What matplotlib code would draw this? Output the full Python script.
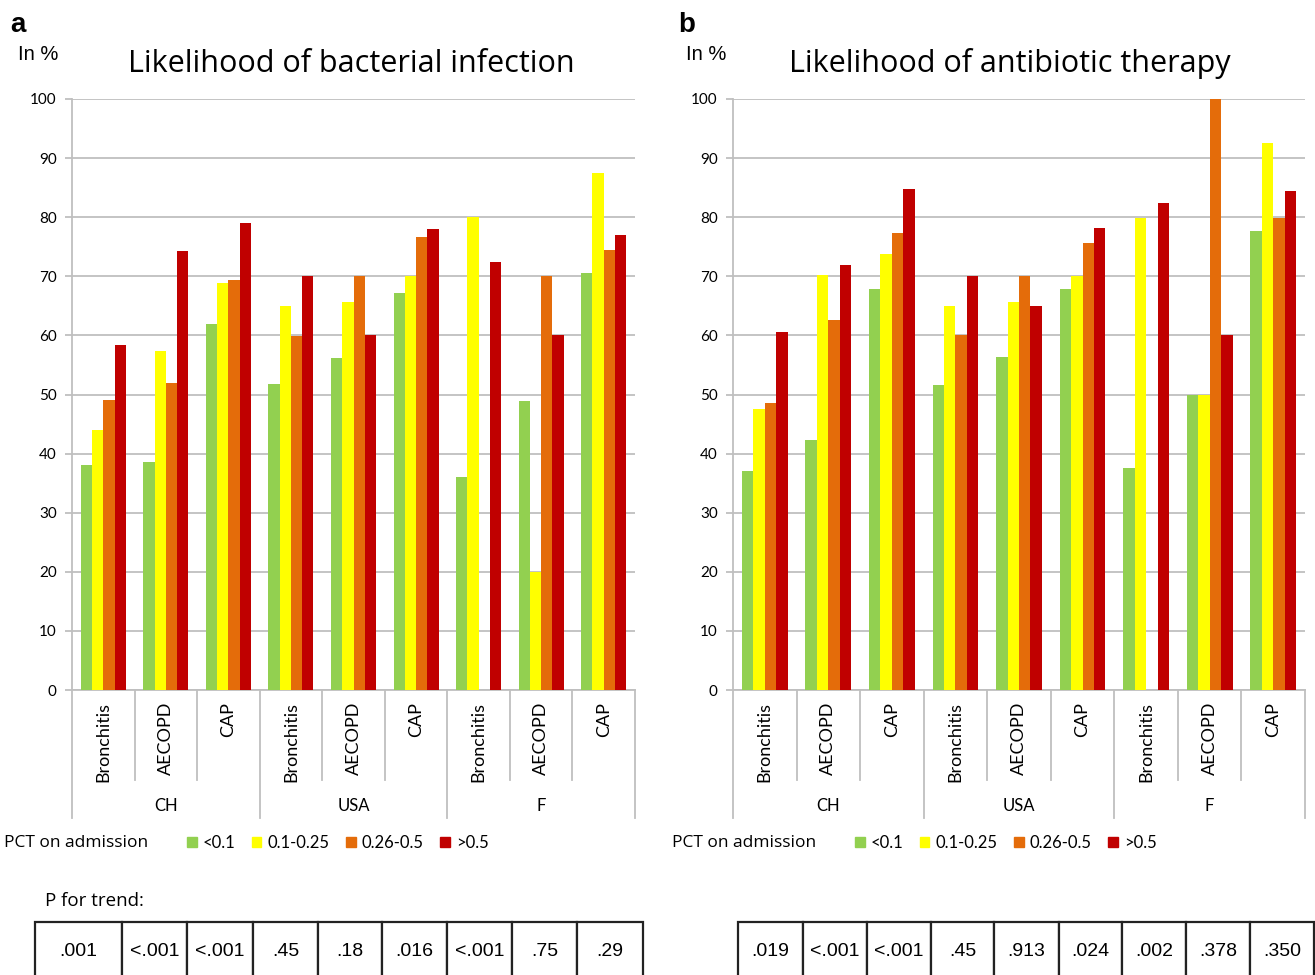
import numpy as np
import matplotlib
matplotlib.use("Agg")
import matplotlib.pyplot as plt
import matplotlib.transforms as mtransforms
from matplotlib.patches import Patch

W, H = 1315, 975

# ---- data (in %) ----
diseases = ['Bronchitis', 'AECOPD', 'CAP'] * 3
countries = ['CH', 'USA', 'F']
pct_classes = ['<0.1', '0.1-0.25', '0.26-0.5', '>0.5']
colors = ['#92D050', '#FFFF00', '#E46C0A', '#C00000']

infection_lt01 = [38.0, 38.5, 61.9, 51.7, 56.1, 67.2, 36.1, 48.9, 70.5]
infection_01_025 = [44.0, 57.4, 68.9, 64.9, 65.6, 70.0, 80.0, 20.0, 87.4]
infection_026_05 = [49.1, 51.9, 69.4, 59.9, 70.0, 76.7, 0.0, 70.0, 74.4]
infection_gt05 = [58.3, 74.3, 79.0, 70.0, 60.0, 78.0, 72.4, 60.0, 77.0]

therapy_lt01 = [37.1, 42.3, 67.9, 51.6, 56.3, 67.8, 37.5, 50.0, 77.6]
therapy_01_025 = [47.5, 70.3, 73.7, 65.0, 65.7, 70.0, 79.9, 50.0, 92.5]
therapy_026_05 = [48.6, 62.6, 77.4, 60.0, 70.0, 75.6, 0.0, 100.0, 79.9]
therapy_gt05 = [60.6, 71.9, 84.7, 70.0, 64.9, 78.2, 82.4, 60.0, 84.5]

p_infection = ['.001', '<.001', '<.001', '.45', '.18', '.016', '<.001', '.75', '.29']
p_therapy = ['.019', '<.001', '<.001', '.45', '.913', '.024', '.002', '.378', '.350']

calibri = ['Lato', 'DejaVu Sans']
arial = ['Liberation Sans', 'DejaVu Sans']
wide = ['Open Sans', 'DejaVu Sans']
grid_col = '#BFBFBF'


def fx(px):
    return px / W


def fy(px):
    return 1 - px / H


fig = plt.figure(figsize=(W / 100, H / 100), dpi=100)


def panel(x0, x1, lx, letter, title, title_x, series, pvals, table_edges):
    ax = fig.add_axes([fx(x0), fy(690), fx(x1 - x0), (690 - 99) / H])
    x = np.arange(len(diseases))
    width = 0.18
    for k, vals in enumerate(series):
        ax.bar(x + (k - 1.5) * width, vals, width, color=colors[k], zorder=3)
    ax.set_xlim(-0.5, len(diseases) - 0.5)
    ax.set_ylim(0, 100)
    ax.set_yticks(np.arange(0, 101, 10))
    ax.set_yticklabels([str(v) for v in range(0, 101, 10)], family=calibri, fontsize=11)
    ax.set_xticks([])
    ax.grid(axis='y', color=grid_col, linewidth=1.3, zorder=0)
    for s in ['top', 'right']:
        ax.spines[s].set_visible(False)
    for s in ['left', 'bottom']:
        ax.spines[s].set_color(grid_col)
        ax.spines[s].set_linewidth(1.3)
    ax.tick_params(axis='y', colors=grid_col, length=5, width=1.3, labelcolor='black', pad=6)

    # two level category axis
    blend = mtransforms.blended_transform_factory(ax.transData, fig.transFigure)
    for b in range(len(diseases) + 1):
        bottom = 818 if b % 3 == 0 else 780
        ax.plot([b - 0.5, b - 0.5], [fy(690), fy(bottom)], transform=blend,
                color=grid_col, linewidth=1.3, clip_on=False)
    for i, name in enumerate(diseases):
        ax.text(i, fy(702), name, transform=blend, rotation=90, ha='center', va='top',
                family=calibri, fontsize=13)
    for g, name in enumerate(countries):
        ax.text(3 * g + 1, fy(806), name, transform=blend, ha='center', va='center',
                family=calibri, fontsize=12)

    # header texts
    fig.text(fx(lx), fy(32), letter, fontsize=20, fontweight='bold',
             family=arial, ha='left', va='baseline')
    fig.text(fx(lx + 8), fy(60), 'In %', fontsize=14.5, family=arial, ha='left', va='baseline')
    fig.text(fx(title_x), fy(72), title, fontsize=22, family=wide, ha='center', va='baseline')

    # legend
    fig.text(fx(lx - 6), fy(843), 'PCT on admission', fontsize=12.5, family=wide,
             ha='left', va='center')
    handles = [Patch(color=c, label=l) for c, l in zip(colors, pct_classes)]
    fig.legend(handles=handles, loc='center left', bbox_to_anchor=(fx(lx + 177), fy(843)),
               ncol=4, frameon=False, handlelength=0.57, handleheight=0.57, handletextpad=0.36,
               columnspacing=1.0, borderpad=0, borderaxespad=0,
               prop={'family': calibri, 'size': 12})

    # p for trend table
    tx0, tx1 = table_edges[0], table_edges[-1]
    tax = fig.add_axes([fx(tx0), fy(980), fx(tx1 - tx0), 58 / H])
    tax.axis('off')
    widths = np.diff(table_edges) / (tx1 - tx0)
    tab = tax.table(cellText=[pvals], colWidths=list(widths), cellLoc='center', bbox=[0, 0, 1, 1])
    tab.auto_set_font_size(False)
    for (r, c), cell in tab.get_celld().items():
        cell.set_linewidth(1.6)
        cell.set_edgecolor('#222222')
        cell.get_text().set_fontsize(14)
        cell.get_text().set_family(arial)
    return ax


panel(72, 635, 10, 'a', 'Likelihood of bacterial infection', 351,
      [infection_lt01, infection_01_025, infection_026_05, infection_gt05], p_infection,
      np.array([35, 122, 187, 253, 318, 382, 447, 512, 577, 643]))
panel(733, 1305, 678, 'b', 'Likelihood of antibiotic therapy', 1010,
      [therapy_lt01, therapy_01_025, therapy_026_05, therapy_gt05], p_therapy,
      np.array([738, 803, 867, 931, 994, 1059, 1122, 1186, 1250, 1314]))

fig.text(fx(45), fy(901), 'P for trend:', fontsize=13.5, family=wide, ha='left', va='center')

fig.savefig('out.png', dpi=100)
